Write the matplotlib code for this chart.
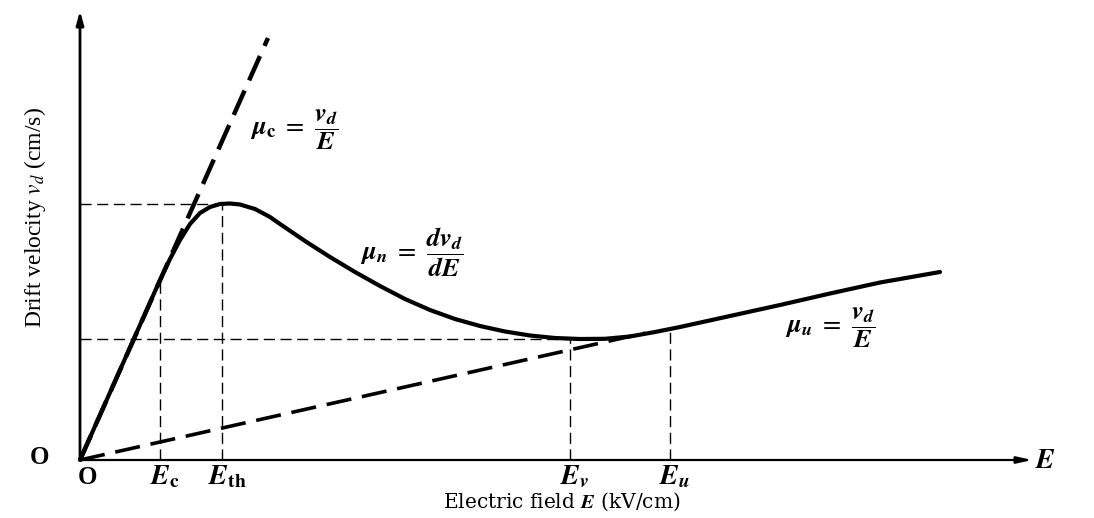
import matplotlib
matplotlib.use("Agg")
import matplotlib.pyplot as plt

# ---- data (arbitrary units) ----
curve_E = [0.0, 0.4, 0.8, 0.9, 1.0, 1.1, 1.2, 1.3, 1.4, 1.5, 1.6, 1.75, 1.9,
           2.0, 2.25, 2.5, 2.75, 3.0, 3.25, 3.5, 3.75, 4.0, 4.25, 4.5, 4.75, 5.0,
           5.25, 5.5, 5.75, 6.0, 6.5, 7.0, 7.5, 8.0, 8.6]
curve_v = [0.0, 0.90, 1.80, 2.01, 2.20, 2.36, 2.47, 2.53, 2.56, 2.565, 2.555, 2.51, 2.43,
           2.36, 2.19, 2.03, 1.88, 1.74, 1.61, 1.50, 1.41, 1.34, 1.285, 1.245, 1.22, 1.21,
           1.212, 1.235, 1.28, 1.33, 1.44, 1.55, 1.665, 1.775, 1.88]

mu_c_line_E = [0.0, 1.88]
mu_c_line_v = [0.0, 4.22]
mu_u_line_E = [0.0, 5.65]
mu_u_line_v = [0.0, 1.27]

E_ticks = [0.8, 1.42, 4.9, 5.9]
E_tick_v = [1.80, 2.56, 1.21, 1.31]
E_tick_labels = [r"$\boldsymbol{E}_{\mathbf{c}}$", r"$\boldsymbol{E}_{\mathbf{th}}$",
                 r"$\boldsymbol{E}_{\boldsymbol{v}}$", r"$\boldsymbol{E}_{\boldsymbol{u}}$"]
v_peak = 2.56
v_valley = 1.21

plt.rcParams['mathtext.fontset'] = 'stix'
plt.rcParams['font.family'] = ['Liberation Serif', 'DejaVu Serif']

fig = plt.figure(figsize=(10.94, 5.18), dpi=100)
ax = fig.add_axes([0, 0, 1, 1])
ax.set_xlim(-0.8, 10.14)
ax.set_ylim(-0.58, 4.60)
ax.axis('off')

# axes with arrows
ax.annotate("", xy=(0, 4.52), xytext=(0, 0),
            arrowprops=dict(arrowstyle="-|>,head_length=0.8,head_width=0.22", lw=2, color="black"))
ax.annotate("", xy=(9.55, 0), xytext=(0, 0),
            arrowprops=dict(arrowstyle="-|>,head_length=0.9,head_width=0.2", lw=1.6, color="black"))

# thin reference dashed lines
thin = dict(color="black", lw=1.0, dashes=(8, 4))
ax.plot([0, E_ticks[1]], [v_peak, v_peak], **thin)
ax.plot([0, E_ticks[2]], [v_valley, v_valley], **thin)
for e, v in zip(E_ticks, E_tick_v):
    ax.plot([e, e], [0, v], **thin)

# thick dashed mobility lines
ax.plot(mu_c_line_E, mu_c_line_v, color="black", lw=3.2, dashes=(6, 2.5))
ax.plot(mu_u_line_E, mu_u_line_v, color="black", lw=2.6, dashes=(7, 3))

# main curve
ax.plot(curve_E, curve_v, color="black", lw=3.0, solid_capstyle="round", solid_joinstyle="round")

# labels
ax.text(-0.4, 0.02, "O", fontsize=18, fontweight="bold", ha="center", va="center")
ax.text(0.08, -0.17, "O", fontsize=18, fontweight="bold", ha="center", va="center")
for e, lab in zip(E_ticks, E_tick_labels):
    ax.text(e + 0.05, -0.17, lab, fontsize=20, ha="center", va="center")
ax.text(9.65, -0.02, r"$\boldsymbol{E}$", fontsize=20, ha="center", va="center")
ax.text(4.82, -0.42, r"Electric field $\boldsymbol{E}$ (kV/cm)", fontsize=14.5,
        family=["DejaVu Serif"], ha="center", va="center")
ax.text(-0.45, 2.42, r"Drift velocity $v_d$ (cm/s)", fontsize=17, rotation=90,
        ha="center", va="center")

ax.text(1.7, 3.3, r"$\boldsymbol{\mu}_{\mathbf{c}}\ =\ \dfrac{\boldsymbol{v}_{\boldsymbol{d}}}{\boldsymbol{E}}$",
        fontsize=19, ha="left", va="center")
ax.text(2.8, 2.08, r"$\boldsymbol{\mu}_{\boldsymbol{n}}\ =\ \dfrac{\boldsymbol{dv}_{\boldsymbol{d}}}{\boldsymbol{dE}}$",
        fontsize=19, ha="left", va="center")
ax.text(7.05, 1.32, r"$\boldsymbol{\mu}_{\boldsymbol{u}}\ =\ \dfrac{\boldsymbol{v}_{\boldsymbol{d}}}{\boldsymbol{E}}$",
        fontsize=19, ha="left", va="center")

fig.savefig("out.png", dpi=100, facecolor="white")
